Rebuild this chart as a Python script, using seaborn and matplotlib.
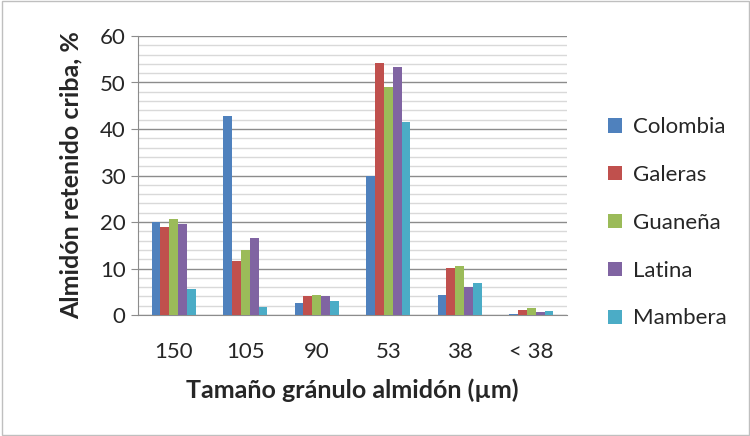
import matplotlib
matplotlib.use("Agg")
import matplotlib.pyplot as plt
import seaborn as sns
import pandas as pd
from matplotlib.ticker import MultipleLocator

categories = ["150", "105", "90", "53", "38", "< 38"]
series_names = ["Colombia", "Galeras", "Guaneña", "Latina", "Mambera"]
colombia = [20.0, 42.9, 2.5, 29.9, 4.4, 0.3]
galeras = [19.0, 11.6, 4.0, 54.2, 10.2, 1.1]
guanena = [20.7, 13.9, 4.4, 49.0, 10.5, 1.4]
latina = [19.6, 16.5, 4.0, 53.4, 6.1, 0.6]
mambera = [5.6, 1.8, 3.1, 41.6, 6.9, 0.9]
colors = ["#4F81BD", "#C0504D", "#9BBB59", "#8064A2", "#4BACC6"]

rows = []
for name, vals in zip(series_names, [colombia, galeras, guanena, latina, mambera]):
    for c, v in zip(categories, vals):
        rows.append({"Tamaño": c, "Variedad": name, "Valor": v})
df = pd.DataFrame(rows)

sns.set_style("white")
plt.rcParams["font.family"] = ["Lato", "DejaVu Sans"]

fig = plt.figure(figsize=(7.5, 4.36), dpi=100)
ax = fig.add_axes([138 / 750, 1 - 315 / 436, (567 - 138) / 750, (315 - 36) / 436])

sns.barplot(data=df, x="Tamaño", y="Valor", hue="Variedad", order=categories,
            hue_order=series_names, palette=colors, width=0.62, gap=0,
            saturation=1, ax=ax, errorbar=None, zorder=3,
            linewidth=0, edgecolor="none")

ax.set_ylim(0, 60)
ax.set_xlim(-0.5, 5.5)
ax.yaxis.set_major_locator(MultipleLocator(10))
ax.yaxis.set_minor_locator(MultipleLocator(2))
ax.grid(axis="y", which="major", color="#8C8C8C", linewidth=1.0, zorder=0)
ax.grid(axis="y", which="minor", color="#D9D9D9", linewidth=1.0, zorder=0)
ax.set_axisbelow(True)
for s in ["top", "right"]:
    ax.spines[s].set_visible(False)
ax.spines["left"].set_color("#8C8C8C")
ax.spines["bottom"].set_color("#8C8C8C")
ax.tick_params(axis="y", which="major", left=True, length=5, color="#8C8C8C",
               labelsize=16, pad=4)
ax.tick_params(axis="y", which="minor", left=False)
ax.tick_params(axis="x", bottom=False, labelsize=16, pad=16)

ax.set_xlabel("Tamaño gránulo almidón (µm)", fontsize=18, fontweight="bold", labelpad=12)
ax.set_ylabel("Almidón retenido criba, %", fontsize=18, fontweight="bold", labelpad=12)

leg = ax.legend(loc="center left", bbox_to_anchor=(1.05, 0.33), frameon=False,
                fontsize=16, handlelength=0.6, handleheight=0.6,
                handletextpad=0.5, labelspacing=1.25)

fig.patches.append(plt.Rectangle((0.002, 0.002), 0.996, 0.996, transform=fig.transFigure,
                                 fill=False, edgecolor="#BFBFBF", linewidth=1))

fig.savefig("out.png", dpi=100)
